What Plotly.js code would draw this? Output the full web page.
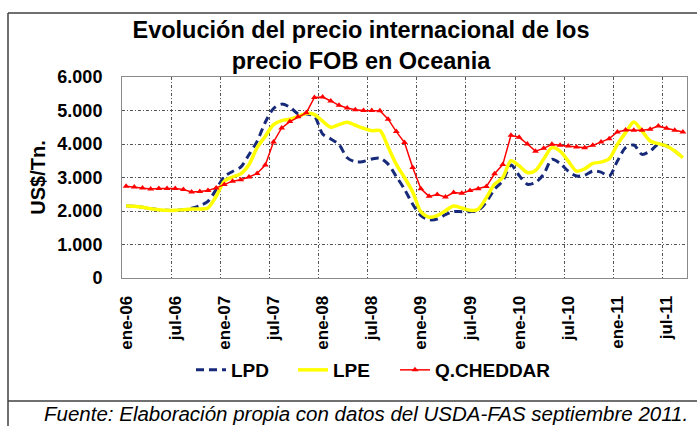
<!DOCTYPE html>
<html><head><meta charset="utf-8">
<script src="https://cdn.plot.ly/plotly-3.0.1.min.js"></script>
<style>html,body{margin:0;padding:0;background:#fff;} #chart{width:697px;height:426px;}</style>
</head><body><div id="chart"></div>
<script>
// 69 months: ene-06 .. sep-11
const monthAbbr = ['ene','feb','mar','abr','may','jun','jul','ago','sep','oct','nov','dic'];
const categories = [];
for (let y = 6; y <= 11; y++) {
  for (let m = 0; m < 12; m++) {
    if (y === 11 && m > 8) break;
    categories.push(monthAbbr[m] + '-' + String(y).padStart(2, '0'));
  }
}
const tickLabels = ['ene-06','jul-06','ene-07','jul-07','ene-08','jul-08','ene-09','jul-09','ene-10','jul-10','ene-11','jul-11'];

const LPD = [2160,2140,2110,2070,2040,2020,2020,2040,2080,2160,2290,2640,
  3030,3180,3310,3680,4080,4650,5060,5190,5100,4900,4900,4830,
  4300,4150,3985,3590,3470,3480,3550,3580,3400,3030,2650,2200,
  1860,1740,1760,1890,1980,1980,1980,2020,2270,2650,2900,3370,
  3060,2800,2850,3100,3540,3420,3190,3045,3065,3190,3160,3045,
  3490,3890,3970,3690,3790,3990,3940,3790,3590];
const LPE = [2160,2140,2110,2070,2040,2020,2020,2040,2060,2060,2090,2440,
  2890,3015,3110,3380,3890,4230,4580,4700,4740,4820,4910,4880,
  4680,4500,4580,4650,4560,4470,4400,4400,3910,3390,3000,2570,
  1980,1815,1860,2010,2150,2090,2020,2055,2400,2800,3000,3500,
  3350,3150,3210,3550,3890,3790,3490,3190,3260,3420,3460,3560,
  3990,4340,4660,4390,4090,4010,3940,3790,3590];
const CHEDDAR = [2740,2720,2690,2660,2670,2670,2670,2640,2570,2580,2610,2690,
  2790,2890,2935,3015,3120,3370,4060,4480,4670,4810,4930,5390,
  5400,5285,5155,5075,5020,5000,5000,4990,4740,4370,4045,3300,
  2665,2437,2495,2418,2550,2530,2610,2665,2730,3110,3385,4258,
  4200,4000,3787,3870,3990,3960,3940,3910,3890,3960,4060,4160,
  4360,4420,4410,4410,4440,4540,4470,4410,4360];
const yTickVals = [0,1000,2000,3000,4000,5000,6000];
const yTickText = ['0','1.000','2.000','3.000','4.000','5.000','6.000'];

const xIdx = categories.map((c, i) => i);
const tickVals = tickLabels.map(l => categories.indexOf(l));
const gridVals = tickVals.map(v => v - 0.5);

const FONT = 'Liberation Sans, Arial, sans-serif';

const traces = [
  {x: xIdx, y: LPD, name: 'LPD', type: 'scatter', mode: 'lines', text: categories, legend: 'legend',
   line: {color: '#172a7a', width: 3, dash: '8px,5px', shape: 'spline', smoothing: 0.8}},
  {x: xIdx, y: LPE, name: 'LPE', type: 'scatter', mode: 'lines', text: categories, legend: 'legend2',
   line: {color: '#ffff00', width: 3.5, shape: 'spline', smoothing: 0.8}},
  {x: xIdx, y: CHEDDAR, name: 'Q.CHEDDAR', type: 'scatter', mode: 'lines+markers', text: categories, legend: 'legend3',
   line: {color: '#ff0000', width: 1.5},
   marker: {symbol: 'triangle-up', size: 6, color: '#ff0000'}}
];

// paper coordinate helpers for the outer frame (plot area: x 122-687, y 77-278)
const px = v => (v - 122) / 565;
const py = v => (278 - v) / 201;

const legendBase = (left) => ({
  orientation: 'h', x: px(left), xanchor: 'left', y: py(370), yanchor: 'middle',
  font: {family: FONT, size: 19, color: '#000', weight: 'bold'},
  bgcolor: 'rgba(0,0,0,0)'
});

const layout = {
  width: 697, height: 426,
  margin: {l: 122, r: 10, t: 77, b: 148},
  paper_bgcolor: '#ffffff', plot_bgcolor: '#ffffff',
  font: {family: FONT, color: '#000'},
  title: {
    text: 'Evolución del precio internacional de los<br>precio FOB en Oceania',
    x: 361 / 697, xanchor: 'center', xref: 'container',
    y: 1 - 38 / 426, yanchor: 'top', yref: 'container',
    font: {family: FONT, size: 23.5, color: '#000', weight: 'bold'}
  },
  xaxis: {
    type: 'linear', range: [-0.5, categories.length - 0.5], fixedrange: true,
    tickmode: 'array', tickvals: tickVals, ticktext: tickLabels,
    tickangle: -90, tickfont: {family: FONT, size: 17, color: '#000', weight: 'bold'},
    ticks: 'outside', ticklen: 10, tickcolor: 'rgba(0,0,0,0)',
    showgrid: false, zeroline: false,
    showline: true, mirror: true, linecolor: '#8a8a8a', linewidth: 1,
    minor: {tickmode: 'array', tickvals: gridVals, showgrid: true,
            gridcolor: '#555', griddash: '3px,2px,1px,2px', gridwidth: 1, ticks: ''}
  },
  yaxis: {
    range: [0, 6000], fixedrange: true,
    tickmode: 'array', tickvals: yTickVals, ticktext: yTickText,
    tickfont: {family: FONT, size: 18, color: '#000', weight: 'bold'},
    ticks: 'outside', ticklen: 15, tickcolor: 'rgba(0,0,0,0)',
    showgrid: true, gridcolor: '#555', griddash: '3px,2px,1px,2px', gridwidth: 1,
    zeroline: false,
    showline: true, mirror: true, linecolor: '#8a8a8a', linewidth: 1,
    title: {text: 'US$/Tn.', standoff: 6, font: {family: FONT, size: 20, color: '#000', weight: 'bold'}}
  },
  showlegend: true,
  legend: legendBase(191),
  legend2: legendBase(293),
  legend3: legendBase(395),
  annotations: [{
    text: '<i>Fuente: Elaboración propia con datos del USDA-FAS septiembre 2011.</i>',
    xref: 'paper', yref: 'paper', x: px(366), y: py(413), xanchor: 'center', yanchor: 'middle',
    showarrow: false, font: {family: FONT, size: 20.5, color: '#000'}
  }],
  shapes: [
    {type: 'line', xref: 'paper', yref: 'paper', x0: px(8), x1: px(700), y0: py(13), y1: py(13), line: {color: '#404040', width: 1.5}},
    {type: 'line', xref: 'paper', yref: 'paper', x0: px(8), x1: px(8), y0: py(13), y1: py(430), line: {color: '#404040', width: 1.5}},
    {type: 'line', xref: 'paper', yref: 'paper', x0: px(8), x1: px(700), y0: py(401), y1: py(401), line: {color: '#404040', width: 1.5}}
  ]
};

Plotly.newPlot('chart', traces, layout, {displayModeBar: false, staticPlot: true});
</script>
</body></html>
